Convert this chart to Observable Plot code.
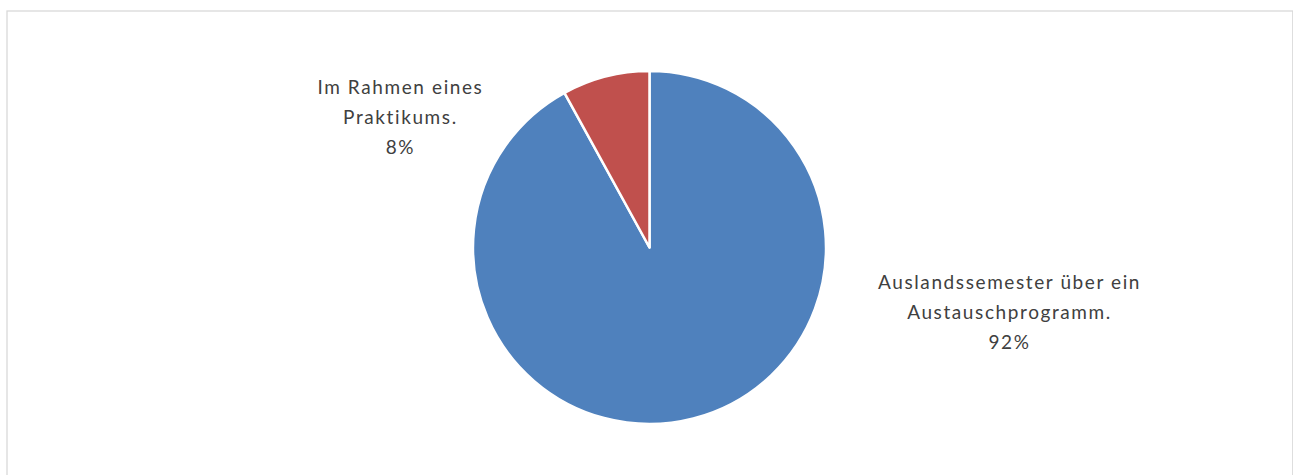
<!DOCTYPE html>
<html>
<head>
<meta charset="utf-8">
<script src="https://cdn.jsdelivr.net/npm/d3@7"></script>
<script src="https://cdn.jsdelivr.net/npm/@observablehq/plot@0.6"></script>
<style>
  html, body { margin: 0; padding: 0; background: #fff; }
  #chart svg { display: block; }
  #chart svg text { letter-spacing: 1.6px; }
</style>
</head>
<body>
<div id="chart"></div>
<script>
// Data
const categories = ["Auslandssemester über ein Austauschprogramm.", "Im Rahmen eines Praktikums."];
const labels = ["Auslandssemester über ein\nAustauschprogramm.", "Im Rahmen eines\nPraktikums."];
const values = [92, 8];
const colors = ["#4f81bd", "#c0504d"];

const W = 1293, H = 475;
const cx = 649.5, cy = 247.5, R = 176.5;

const data = categories.map((c, i) => ({category: c, label: labels[i], value: values[i], color: colors[i]}));
const total = d3.sum(values);
const arcs = d3.pie().sort(null).value(d => d.value)(data);

// label anchor positions (in radius units, relative to pie centre)
const labelPos = [[2.037, -0.348], [-1.414, 0.757]];
const labelData = data.map((d, i) => ({
  text: d.label + "\n" + Math.round(d.value / total * 100) + "%",
  x: labelPos[i][0],
  y: labelPos[i][1]
}));

const pieMark = (index, scales) => {
  const x0 = scales.x(0), y0 = scales.y(0);
  const r = scales.x(1) - scales.x(0);
  const g = d3.create("svg:g").attr("transform", `translate(${x0},${y0})`);
  const arc = d3.arc().innerRadius(0).outerRadius(r);
  g.selectAll("path").data(arcs).join("path")
    .attr("d", arc)
    .attr("fill", d => d.data.color)
    .attr("stroke", "#fff")
    .attr("stroke-width", 2.5)
    .attr("stroke-linejoin", "round");
  return g.node();
};

const chart = Plot.plot({
  width: W,
  height: H,
  margin: 0,
  style: {fontFamily: "Lato, 'Open Sans', sans-serif", background: "#fff", overflow: "visible"},
  x: {domain: [-cx / R, (W - cx) / R], axis: null},
  y: {domain: [-(H - cy) / R, cy / R], axis: null},
  marks: [
    Plot.frame({stroke: "#d9d9d9", strokeWidth: 1.3, insetLeft: 6.5, insetTop: 10.5, insetRight: 0.7, insetBottom: -10}),
    pieMark,
    Plot.text(labelData, {
      x: "x", y: "y", text: "text",
      fontSize: 19, lineHeight: 30 / 19,
      fill: "#404040", textAnchor: "middle"
    })
  ]
});
document.getElementById("chart").appendChild(chart);
</script>
</body>
</html>
